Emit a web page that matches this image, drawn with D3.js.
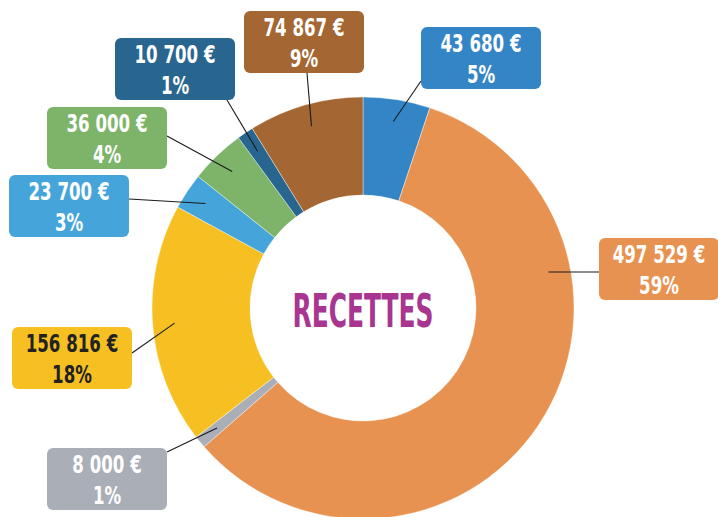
<!DOCTYPE html>
<html>
<head>
<meta charset="utf-8">
<script src="https://cdn.jsdelivr.net/npm/d3@7"></script>
<style>
  html, body { margin: 0; padding: 0; background: #fff; }
  svg { display: block; }
  .box-text { font-family: "DejaVu Sans Condensed", "Liberation Sans", sans-serif; font-weight: bold; text-anchor: middle; }
  .leader { stroke: #1a1a1a; stroke-width: 1.1; fill: none; }
</style>
</head>
<body>
<svg id="chart"></svg>
<script>
// slices, clockwise from 12 o'clock
const NAMES = ["blue", "orange", "gray", "yellow", "lightblue", "green", "darkblue", "brown"];
const VALUES = [43680, 497529, 8000, 156816, 23700, 36000, 10700, 74867];
const PCT_LABELS = ["5%", "59%", "1%", "18%", "3%", "4%", "1%", "9%"];
const COLORS = ["#3385c6", "#e89251", "#a9aeb7", "#f6c023", "#45a5db", "#7db46a", "#286690", "#a46632"];
const TEXT_COLORS = ["#fff", "#fff", "#fff", "#222", "#fff", "#fff", "#fff", "#fff"];

// label box placement: top-left corner, and where the leader leaves the box
const BOX_POS = [[421, 27], [599, 238], [47, 448], [12, 327], [9, 175], [47, 107], [115, 38], [244, 11]];
const BOX_ANCHOR = [[0, 54], [0, 34], [120, 4], [120, 26], [120, 24], [120, 29], [112, 62], [63, 62]];

const W = 718, H = 517;
const CX = 363, CY = 308;
const R_OUT = 211, R_IN = 113, R_LEAD = 189;
const BOX_W = 120, BOX_H = 62;
const SQUEEZE = 0.74; // the original uses a condensed face

const fr = d3.formatLocale({ decimal: ",", thousands: "\u00a0", grouping: [3], currency: ["", "\u00a0€"] });
const fmt = fr.format("$,.0f");

const svg = d3.select("#chart").attr("width", W).attr("height", H);

const pie = d3.pie().sort(null).value(d => d);
const arcs = pie(VALUES);
const arc = d3.arc().innerRadius(R_IN).outerRadius(R_OUT);

const gPie = svg.append("g").attr("transform", "translate(" + CX + "," + CY + ")");
gPie.selectAll("path").data(arcs).join("path")
  .attr("d", arc)
  .attr("fill", (d, i) => COLORS[i])
  .attr("stroke", "#fff")
  .attr("stroke-width", 0.4);

gPie.append("text")
  .attr("x", 0).attr("y", 19)
  .attr("text-anchor", "middle")
  .attr("textLength", 141)
  .attr("lengthAdjust", "spacingAndGlyphs")
  .style("font-family", "'DejaVu Sans Condensed', 'Liberation Sans', sans-serif")
  .style("font-weight", "bold")
  .style("font-size", "47px")
  .attr("fill", "#a8358f")
  .text("RECETTES");

// leaders
const gLead = svg.append("g");
arcs.forEach((a, i) => {
  const x1 = BOX_POS[i][0] + BOX_ANCHOR[i][0];
  const y1 = BOX_POS[i][1] + BOX_ANCHOR[i][1];
  let x2, y2;
  if (NAMES[i] === "orange") {
    // horizontal leader straight into the big slice
    y2 = y1;
    x2 = CX + Math.sqrt(R_LEAD * R_LEAD - (y1 - CY) * (y1 - CY));
  } else {
    const m = (a.startAngle + a.endAngle) / 2;
    x2 = CX + R_LEAD * Math.sin(m);
    y2 = CY - R_LEAD * Math.cos(m);
  }
  gLead.append("line").attr("class", "leader")
    .attr("x1", x1).attr("y1", y1).attr("x2", x2).attr("y2", y2);
});

// label boxes
const gBox = svg.selectAll("g.lbl").data(arcs).join("g")
  .attr("class", "lbl")
  .attr("transform", (d, i) => "translate(" + BOX_POS[i][0] + "," + BOX_POS[i][1] + ")");

gBox.append("rect")
  .attr("width", BOX_W).attr("height", BOX_H)
  .attr("rx", 6).attr("ry", 6)
  .attr("fill", (d, i) => COLORS[i]);

gBox.append("text").attr("class", "box-text")
  .attr("transform", "translate(" + (BOX_W / 2) + ",25) scale(" + SQUEEZE + ",1)")
  .style("font-size", "25px")
  .attr("fill", (d, i) => TEXT_COLORS[i])
  .text(d => fmt(d.data));

gBox.append("text").attr("class", "box-text")
  .attr("transform", "translate(" + (BOX_W / 2) + ",56) scale(" + SQUEEZE + ",1)")
  .style("font-size", "25px")
  .attr("fill", (d, i) => TEXT_COLORS[i])
  .text((d, i) => PCT_LABELS[i]);
</script>
</body>
</html>
